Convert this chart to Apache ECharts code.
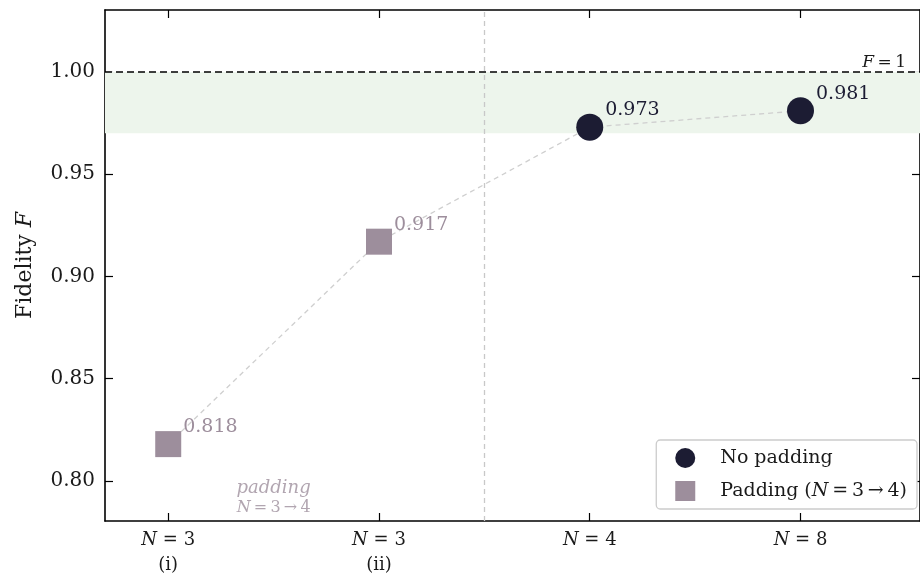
<!DOCTYPE html>
<html>
<head>
<meta charset="utf-8">
<script src="https://cdn.jsdelivr.net/npm/echarts@6/dist/echarts.min.js"></script>
<style>html,body{margin:0;padding:0;background:#fff;}#c{width:920px;height:578px;}</style>
</head>
<body>
<div id="c"></div>
<script>
// ---- data ----
const categories = ['{it|N}{t| = 3}\n{t|(i)}', '{it|N}{t| = 3}\n{t|(ii)}', '{it|N}{t| = 4}', '{it|N}{t| = 8}'];
const categoryPositions = [0, 1, 2, 3];
const fidelity = [0.818, 0.917, 0.973, 0.981];
const paddingIdx = [0, 1];
const noPaddingIdx = [2, 3];
const yTicks = [0.80, 0.85, 0.90, 0.95, 1.00];
const bandRange = [0.97, 1.00];
const dividerX = 1.5;
const perfectF = 1.0;

const FONT = 'DejaVu Serif';
const DARK = '#1c1c33';
const MAUVE = '#9d8e9c';
const TXT = '#1a1a1a';

const chart = echarts.init(document.getElementById('c'), null, {renderer: 'canvas'});

const allPts = categoryPositions.map((x, i) => [x, fidelity[i]]);
const padPts = paddingIdx.map(i => [categoryPositions[i], fidelity[i]]);
const noPadPts = noPaddingIdx.map(i => [categoryPositions[i], fidelity[i]]);

const option = {
  animation: false,
  backgroundColor: '#fff',
  grid: {left: 105, top: 10, width: 816, height: 511, containLabel: false},
  xAxis: [{
    type: 'value', min: -0.3, max: 3.567,
    axisLine: {show: true, onZero: false, lineStyle: {color: '#000', width: 1.6}},
    axisTick: {show: true, inside: true, length: 8, customValues: categoryPositions, lineStyle: {color: '#000', width: 1.2}},
    axisLabel: {
      show: true, customValues: categoryPositions, margin: 7,
      formatter: v => categories[Math.round(v)],
      rich: {
        it: {fontStyle: 'italic', fontFamily: FONT, fontSize: 18, color: TXT, lineHeight: 25},
        t: {fontFamily: FONT, fontSize: 18, color: TXT, lineHeight: 25}
      }
    },
    splitLine: {show: false}
  }, {
    type: 'value', min: -0.3, max: 3.567, position: 'top',
    axisLine: {show: true, onZero: false, lineStyle: {color: '#000', width: 1.6}},
    axisTick: {show: true, inside: true, length: 8, customValues: categoryPositions, lineStyle: {color: '#000', width: 1.2}},
    axisLabel: {show: false},
    splitLine: {show: false}
  }],
  yAxis: [{
    type: 'value', min: 0.7804, max: 1.0303,
    name: '{t|Fidelity }{it|F}', nameLocation: 'middle', nameGap: 69, nameRotate: 90,
    nameTextStyle: {rich: {
      t: {fontFamily: FONT, fontSize: 22, color: TXT},
      it: {fontStyle: 'italic', fontFamily: FONT, fontSize: 22, color: TXT}
    }},
    axisLine: {show: true, onZero: false, lineStyle: {color: '#000', width: 1.6}},
    axisTick: {show: true, inside: true, length: 8, customValues: yTicks, lineStyle: {color: '#000', width: 1.2}},
    axisLabel: {show: true, customValues: yTicks, margin: 10, fontFamily: FONT, fontSize: 20, color: TXT, formatter: v => v.toFixed(2)},
    splitLine: {show: false}
  }, {
    type: 'value', min: 0.7804, max: 1.0303, position: 'right',
    axisLine: {show: true, onZero: false, lineStyle: {color: '#000', width: 1.6}},
    axisTick: {show: true, inside: true, length: 8, customValues: yTicks, lineStyle: {color: '#000', width: 1.2}},
    axisLabel: {show: false},
    splitLine: {show: false}
  }],
  legend: {
    right: 3, top: 440, orient: 'vertical',
    padding: [8, 10, 8, 19], itemGap: 13,
    itemWidth: 20, itemHeight: 20,
    backgroundColor: '#fff',
    borderColor: '#cccccc', borderWidth: 1.3, borderRadius: 4,
    textStyle: {fontFamily: FONT, fontSize: 19, color: TXT, padding: [0, 0, 0, 20],
      rich: {
        t: {fontFamily: FONT, fontSize: 19, color: TXT},
        it: {fontStyle: 'italic', fontFamily: FONT, fontSize: 19, color: TXT}
      }},
    formatter: name => name === 'Padding' ? '{t|Padding (}{it|N}{t|\u2009=\u20093\u2009\u2192\u20094)}' : '{t|' + name + '}',
    data: [
      {name: 'No padding', icon: 'circle', itemStyle: {color: DARK, opacity: 1}},
      {name: 'Padding', icon: 'rect', itemStyle: {color: MAUVE, opacity: 1}}
    ]
  },
  series: [
    {
      name: 'band', type: 'line', data: [], silent: true, z: 1,
      markArea: {silent: true, itemStyle: {color: '#edf5ec', opacity: 1}, data: [[{yAxis: bandRange[0]}, {yAxis: bandRange[1]}]]},
      markLine: {
        silent: true, symbol: 'none', animation: false,
        data: [
          {xAxis: dividerX, lineStyle: {color: '#c8c8c8', width: 1.3, type: [5, 4]}, label: {show: false}},
          {yAxis: perfectF, lineStyle: {color: '#000', width: 1.6, type: [7, 4]},
            label: {show: true, position: 'insideEndTop', distance: [14, 1], formatter: '{it|F}{t|\u2009=\u20091}',
              rich: {
                it: {fontStyle: 'italic', fontFamily: FONT, fontSize: 17, color: TXT},
                t: {fontFamily: FONT, fontSize: 17, color: TXT}
              }}}
        ]
      }
    },
    {
      name: 'trend', type: 'line', data: allPts, symbol: 'none', silent: true, z: 2,
      lineStyle: {color: '#cfcfcf', width: 1.3, type: [5, 4]}
    },
    {
      name: 'Padding', type: 'scatter', data: padPts, symbol: 'rect', symbolSize: 26, z: 3,
      itemStyle: {color: MAUVE, opacity: 1},
      label: {show: true, position: 'right', offset: [-3, -17], formatter: p => p.value[1].toFixed(3), fontFamily: FONT, fontSize: 19, color: MAUVE}
    },
    {
      name: 'No padding', type: 'scatter', data: noPadPts, symbol: 'circle', symbolSize: 27, z: 3,
      itemStyle: {color: DARK, opacity: 1},
      label: {show: true, position: 'right', offset: [-3, -17], formatter: p => p.value[1].toFixed(3), fontFamily: FONT, fontSize: 19, color: DARK}
    },
    {
      name: 'note', type: 'scatter', data: [[0.5, 0.7915]], symbolSize: 0, silent: true, z: 3,
      label: {show: true, position: 'inside', formatter: '{a|padding}\n{b|N}{c|\u2009=\u20093\u2009\u2192\u20094}',
        rich: {
          a: {fontStyle: 'italic', fontFamily: FONT, fontSize: 18, color: MAUVE, lineHeight: 20},
          b: {fontStyle: 'italic', fontFamily: FONT, fontSize: 16, color: MAUVE, lineHeight: 20},
          c: {fontFamily: FONT, fontSize: 16, color: MAUVE, lineHeight: 20}
        }}
    }
  ]
};
chart.setOption(option);
</script>
</body>
</html>
